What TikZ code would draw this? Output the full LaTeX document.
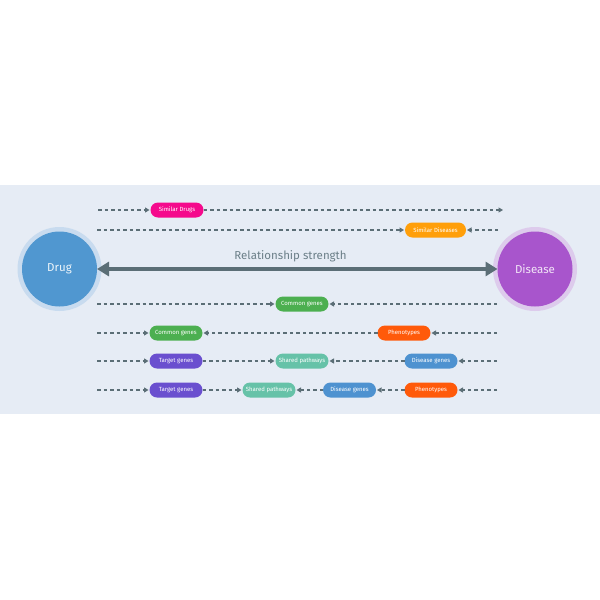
\documentclass[tikz,border=0pt]{standalone}
\usepackage{fontspec}
\setmainfont{Fira Sans}
\usetikzlibrary{arrows.meta}
\definecolor{bgc}{HTML}{E6ECF5}
\definecolor{drugc}{HTML}{5097D0}
\definecolor{drughalo}{HTML}{C8DBEF}
\definecolor{disc}{HTML}{A855CC}
\definecolor{dishalo}{HTML}{DDCBEC}
\definecolor{magc}{HTML}{F50A8C}
\definecolor{orc}{HTML}{FF9F0A}
\definecolor{grc}{HTML}{4CAF50}
\definecolor{phc}{HTML}{FF5A0A}
\definecolor{tgc}{HTML}{6A4FCF}
\definecolor{spc}{HTML}{66C2A8}
\definecolor{dgc}{HTML}{4E92D0}
\definecolor{arrc}{HTML}{5B6E76}
\definecolor{labc}{HTML}{6B7F88}
\begin{document}
\begin{tikzpicture}[x=1pt,y=-1pt,
  pill/.style={rounded corners=7.5pt, minimum width=53pt, minimum height=15pt, inner sep=0pt, outer sep=0pt,
    text=white, font=\fontsize{6}{7}\selectfont},
  big/.style={circle, minimum size=75pt, inner sep=0pt, outer sep=0pt, font=\fontsize{11.5}{13}\selectfont},
  halo/.style={circle, minimum size=84pt, inner sep=0pt, outer sep=0pt},
  dasharr/.style={draw=arrc, line width=1.4pt, dash pattern=on 3.5pt off 3pt, -{Triangle[length=4.5pt,width=5pt]}, shorten >=1pt},
  mainarr/.style={draw=arrc, line width=3.5pt, {Triangle[length=12pt,width=14pt]}-{Triangle[length=12pt,width=14pt]}}
]
\useasboundingbox (0,0) rectangle (600,600);
\fill[bgc] (0,185) rectangle (600,413.5);

% circles
\node[halo, fill=drughalo] (drugh) at (59.5,269) {};
\node[big, fill=drugc, text=white!90!drugc] (drug) at (59.5,269) {Drug};
\node[halo, fill=dishalo] (dish) at (535,269) {};
\node[big, fill=disc, text=white!85!disc] (dis) at (535,269) {Disease};

\draw[mainarr] (drug.east) -- (dis.west);
\node[text=labc, font=\fontsize{11.5}{13}\selectfont] (rel) at (290.5,256) {Relationship strength};

% row 1
\node[pill, fill=magc] (simdrugs) at (177,210) {Similar Drugs};
\coordinate (r1a) at (98,210);
\coordinate (r1b) at (504,210);
\draw[dasharr] (r1a) -- (simdrugs.west);
\draw[dasharr] (simdrugs.east) -- (r1b);

% row 2
\node[pill, fill=orc, minimum width=61pt] (simdis) at (435.5,230) {Similar Diseases};
\coordinate (r2a) at (97,230);
\coordinate (r2b) at (498,230);
\draw[dasharr] (r2a) -- (simdis.west);
\draw[dasharr] (r2b) -- (simdis.east);

% row 4
\node[pill, fill=grc] (cg1) at (302,304) {Common genes};
\coordinate (r4a) at (97,304);
\coordinate (r4b) at (497,304);
\draw[dasharr] (r4a) -- (cg1.west);
\draw[dasharr] (r4b) -- (cg1.east);

% row 5
\node[pill, fill=grc] (cg2) at (176,333) {Common genes};
\node[pill, fill=phc] (ph1) at (404,333) {Phenotypes};
\coordinate (r5a) at (97,333);
\coordinate (r5b) at (497,333);
\draw[dasharr] (r5a) -- (cg2.west);
\draw[dasharr] (ph1.west) -- (cg2.east);
\draw[dasharr] (r5b) -- (ph1.east);

% row 6
\node[pill, fill=tgc] (tg1) at (176,361) {Target genes};
\node[pill, fill=spc] (sp1) at (302,361) {Shared pathways};
\node[pill, fill=dgc] (dg1) at (431,361) {Disease genes};
\coordinate (r6a) at (97,361);
\coordinate (r6b) at (497,361);
\draw[dasharr] (r6a) -- (tg1.west);
\draw[dasharr] (tg1.east) -- (sp1.west);
\draw[dasharr] (dg1.west) -- (sp1.east);
\draw[dasharr] (r6b) -- (dg1.east);

% row 7
\node[pill, fill=tgc] (tg2) at (176,390) {Target genes};
\node[pill, fill=spc] (sp2) at (269,390) {Shared pathways};
\node[pill, fill=dgc] (dg2) at (349.5,390) {Disease genes};
\node[pill, fill=phc] (ph2) at (431,390) {Phenotypes};
\coordinate (r7a) at (97,390);
\coordinate (r7b) at (497,390);
\draw[dasharr] (r7a) -- (tg2.west);
\draw[dasharr] (tg2.east) -- (sp2.west);
\draw[dasharr] (dg2.west) -- (sp2.east);
\draw[dasharr] (ph2.west) -- (dg2.east);
\draw[dasharr] (r7b) -- (ph2.east);
\end{tikzpicture}
\end{document}
